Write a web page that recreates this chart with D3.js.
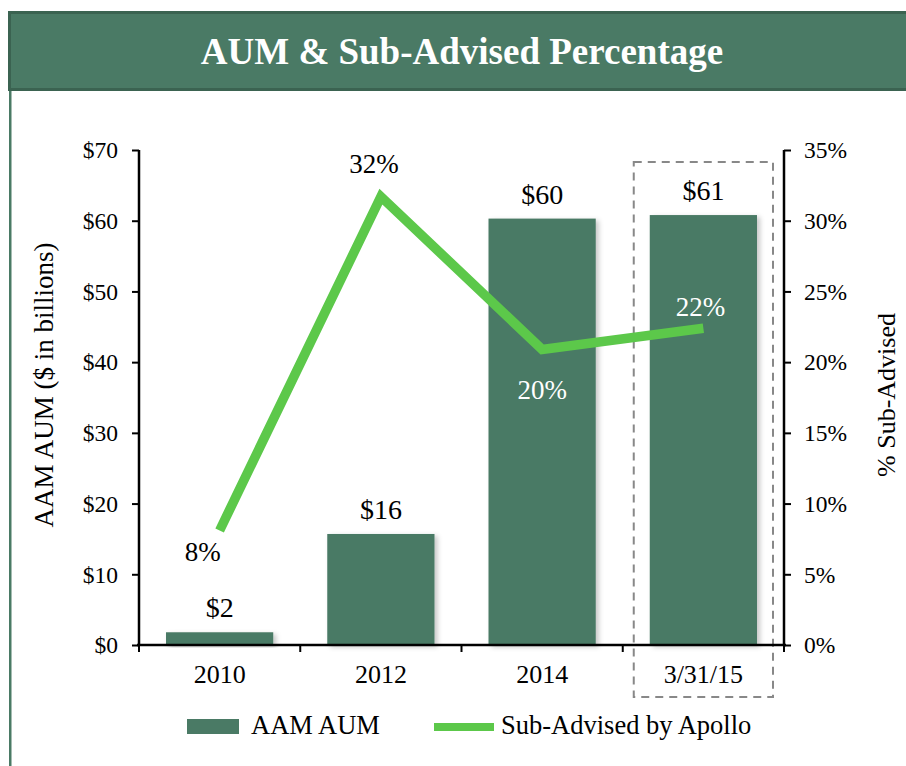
<!DOCTYPE html>
<html><head><meta charset="utf-8">
<script src="https://cdn.jsdelivr.net/npm/d3@7"></script>
</head>
<body style="margin:0;padding:0;background:#fff">
<svg id="chart" width="906" height="766" style="display:block"></svg>
<script>
const categories = ["2010", "2012", "2014", "3/31/15"];
const aumValues = [1.8, 15.7, 60.3, 60.8];
const aumLabels = ["$2", "$16", "$60", "$61"];
const subAdvisedPct = [8.1, 31.7, 20.9, 22.4];
const pctLabels = ["8%", "32%", "20%", "22%"];
const leftTicks = [0, 10, 20, 30, 40, 50, 60, 70];
const rightTicks = [0, 5, 10, 15, 20, 25, 30, 35];
const titleText = "AUM & Sub-Advised Percentage";
const seriesNames = ["AAM AUM", "Sub-Advised by Apollo"];
const axisTitles = ["AAM AUM ($ in billions)", "% Sub-Advised"];

(function () {
const FONT = "'Liberation Serif'";
const svg = d3.select("#chart");
const W = 906, H = 766;
const darkGreen = "#4a7a65", borderGreen = "#3b6351", lineGreen = "#5cc84a";
const txt = (sel) => sel.style("font-family", FONT);

// frame
svg.append("rect").attr("x", 9).attr("y", 88).attr("width", 2.5).attr("height", H - 88).attr("fill", darkGreen);
svg.append("rect").attr("x", 9.5).attr("y", 12.5).attr("width", W).attr("height", 77)
  .attr("fill", darkGreen).attr("stroke", borderGreen).attr("stroke-width", 3);
svg.append("text").attr("x", 462).attr("y", 64).attr("text-anchor", "middle")
  .attr("fill", "#fff").attr("font-weight", "bold").attr("font-size", 37).call(txt).text(titleText);

const pL = 139, pR = 784, pT = 150, pB = 645;
const x = d3.scaleBand().domain(categories).range([pL, pR]).paddingInner(0.335).paddingOuter(0.1675);
const yL = d3.scaleLinear().domain([0, 70]).range([pB, pT]);
const yR = d3.scaleLinear().domain([0, 35]).range([pB, pT]);

const defs = svg.append("defs");
const f = defs.append("filter").attr("id", "shadow").attr("x", "-20%").attr("y", "-20%").attr("width", "150%").attr("height", "140%");
f.append("feDropShadow").attr("dx", 3).attr("dy", 2).attr("stdDeviation", 2.5).attr("flood-color", "#000").attr("flood-opacity", 0.22);

// bars
svg.append("g").selectAll("rect").data(categories).join("rect")
  .attr("x", d => x(d)).attr("width", x.bandwidth())
  .attr("y", (d, i) => yL(aumValues[i])).attr("height", (d, i) => yL(0) - yL(aumValues[i]))
  .attr("fill", darkGreen).attr("filter", "url(#shadow)");

// dashed highlight box
const last = categories[categories.length - 1];
const step = x.step();
svg.append("rect")
  .attr("x", x(last) - step * 0.335 / 2 + 11).attr("y", 162)
  .attr("width", step - 22).attr("height", 697 - 162)
  .attr("fill", "none").attr("stroke", "#888").attr("stroke-width", 2).attr("stroke-dasharray", "8,6");

// axes
const leftAxis = svg.append("g").attr("transform", `translate(${pL},0)`)
  .call(d3.axisLeft(yL).tickValues(leftTicks).tickSize(7).tickPadding(14).tickFormat(d => "$" + d));
const rightAxis = svg.append("g").attr("transform", `translate(${pR},0)`)
  .call(d3.axisRight(yR).tickValues(rightTicks).tickSize(7).tickPadding(13).tickFormat(d => d + "%"));
[leftAxis, rightAxis].forEach(g => {
  g.attr("font-family", null);
  g.select(".domain").attr("stroke-width", 2.5).attr("d", `M0,${pT}V${pB}`);
  g.selectAll(".tick line").attr("stroke-width", 2);
  g.selectAll(".tick text").attr("font-size", 23.5).attr("fill", "#000").attr("dy", "0.33em").call(txt);
});
svg.append("line").attr("x1", pL - 2).attr("x2", pR + 2).attr("y1", pB).attr("y2", pB)
  .attr("stroke", "#000").attr("stroke-width", 2.5);
const xTicks = categories.map(d => x(d) - step * 0.335 / 2).concat([pR]);
svg.append("g").selectAll("line").data(xTicks).join("line")
  .attr("x1", d => d).attr("x2", d => d).attr("y1", pB).attr("y2", pB + 7)
  .attr("stroke", "#000").attr("stroke-width", 2);
svg.append("g").selectAll("text").data(categories).join("text")
  .attr("x", d => x(d) + x.bandwidth() / 2).attr("y", 683).attr("text-anchor", "middle")
  .attr("font-size", 26).call(txt).text(d => d);

// line
const pts = categories.map((d, i) => [x(d) + x.bandwidth() / 2, yR(subAdvisedPct[i])]);
svg.append("path").attr("d", d3.line()(pts)).attr("fill", "none")
  .attr("stroke", lineGreen).attr("stroke-width", 9.5).attr("stroke-linejoin", "miter");

// bar labels
svg.append("g").selectAll("text").data(categories).join("text")
  .attr("x", d => x(d) + x.bandwidth() / 2)
  .attr("y", (d, i) => yL(aumValues[i]) - 15)
  .attr("text-anchor", "middle").attr("font-size", 28).call(txt).text((d, i) => aumLabels[i]);

// pct labels
const pctOff = [[-17, 31], [-7, -24], [0, 50], [-3, -12]];
const pctColor = ["#000", "#000", "#fff", "#fff"];
svg.append("g").selectAll("text").data(categories).join("text")
  .attr("x", (d, i) => pts[i][0] + pctOff[i][0])
  .attr("y", (d, i) => pts[i][1] + pctOff[i][1])
  .attr("text-anchor", "middle").attr("font-size", 27).call(txt)
  .attr("fill", (d, i) => pctColor[i]).text((d, i) => pctLabels[i]);

// axis titles
svg.append("text").attr("transform", "translate(53,385) rotate(-90)").attr("text-anchor", "middle")
  .attr("font-size", 27).call(txt).text(axisTitles[0]);
svg.append("text").attr("transform", "translate(895,395) rotate(-90)").attr("text-anchor", "middle")
  .attr("font-size", 26).call(txt).text(axisTitles[1]);

// legend
svg.append("rect").attr("x", 187).attr("y", 719).attr("width", 52).attr("height", 15).attr("fill", darkGreen);
svg.append("text").attr("x", 251).attr("y", 734).attr("font-size", 26.5).call(txt).text(seriesNames[0]);
svg.append("line").attr("x1", 434).attr("x2", 494).attr("y1", 727).attr("y2", 727)
  .attr("stroke", lineGreen).attr("stroke-width", 8);
svg.append("text").attr("x", 501).attr("y", 734).attr("font-size", 26.5).call(txt).text(seriesNames[1]);
})();
</script>
</body></html>
